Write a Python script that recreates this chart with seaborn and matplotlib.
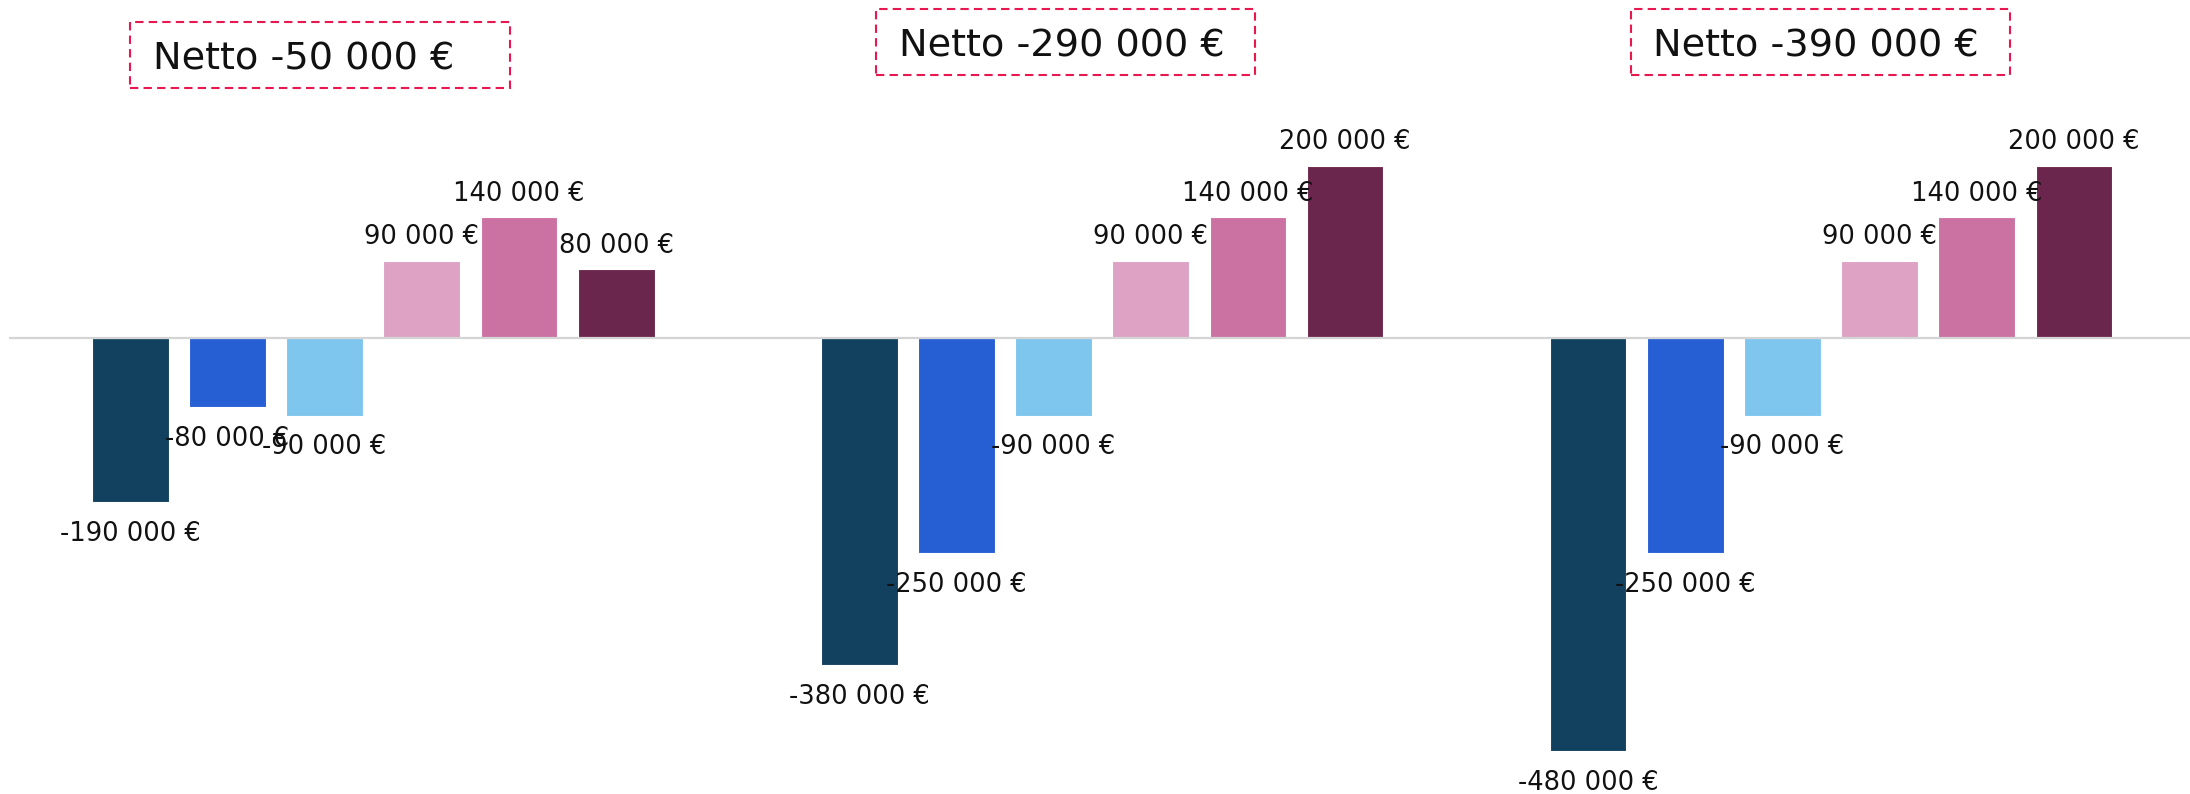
import pandas as pd
import matplotlib.pyplot as plt
import matplotlib.transforms as mtransforms
from matplotlib.patches import Rectangle
import seaborn as sns

sns.set_style('white')
plt.rcParams['font.family'] = ['DejaVu Sans']

# data
scenarios = ['Scenario 1', 'Scenario 2', 'Scenario 3']
items = ['Post 1', 'Post 2', 'Post 3', 'Post 4', 'Post 5', 'Post 6']
scenario_1 = [-190000, -80000, -90000, 90000, 140000, 80000]
scenario_2 = [-380000, -250000, -90000, 90000, 140000, 200000]
scenario_3 = [-480000, -250000, -90000, 90000, 140000, 200000]
colors = ['#12405f', '#265fd4', '#7fc6ee', '#dea2c4', '#cc72a3', '#6b264d']


def fmt_eur(v):
    return f"{v:,.0f}".replace(',', ' ') + ' €'


df = pd.DataFrame({
    'scenario': [s for s in scenarios for _ in items],
    'post': items * len(scenarios),
    'value': scenario_1 + scenario_2 + scenario_3,
})
netto = [sum(s) for s in (scenario_1, scenario_2, scenario_3)]

fig = plt.figure(figsize=(21.9, 7.94), dpi=100)
ax = fig.add_axes([0.004, 0.0, 0.9985, 1.0])

sns.barplot(data=df, x='scenario', y='value', hue='post', hue_order=items,
            palette=colors, saturation=1, width=0.8, gap=0.21,
            edgecolor='white', linewidth=0.8, errorbar=None, legend=False, ax=ax)

ax.axhline(0, color='#d4d4d4', lw=1.6, zorder=3)
ax.set_xlim(-0.5, 2.5)
ax.set_ylim(-529600, 392600)
ax.axis('off')

# value labels
for cont in ax.containers:
    for bar in cont:
        h = bar.get_height()
        x = bar.get_x() + bar.get_width() / 2
        ax.annotate(fmt_eur(h), (x, h), xytext=(0, 17 if h > 0 else -23),
                    textcoords='offset points', ha='center', va='center',
                    fontsize=18.5, color='#111111')

# netto boxes
trans = mtransforms.blended_transform_factory(ax.transData, ax.transAxes)
box_left = [-0.333, 0.69, 1.725]
box_top = [0.972, 0.989, 0.989]
box_w, box_h = 0.52, 0.083
for left, top, n in zip(box_left, box_top, netto):
    ax.add_patch(Rectangle((left, top - box_h), box_w, box_h, transform=trans,
                           fill=False, ec='#e8174f', lw=1.5, ls=(0, (4, 2.5)),
                           clip_on=False))
    ax.text(left + 0.031, top - box_h / 2 - 0.006, 'Netto ' + fmt_eur(n), transform=trans,
            ha='left', va='center', fontsize=27.5, color='#111111')

fig.savefig('out.png', dpi=100, facecolor='white')
